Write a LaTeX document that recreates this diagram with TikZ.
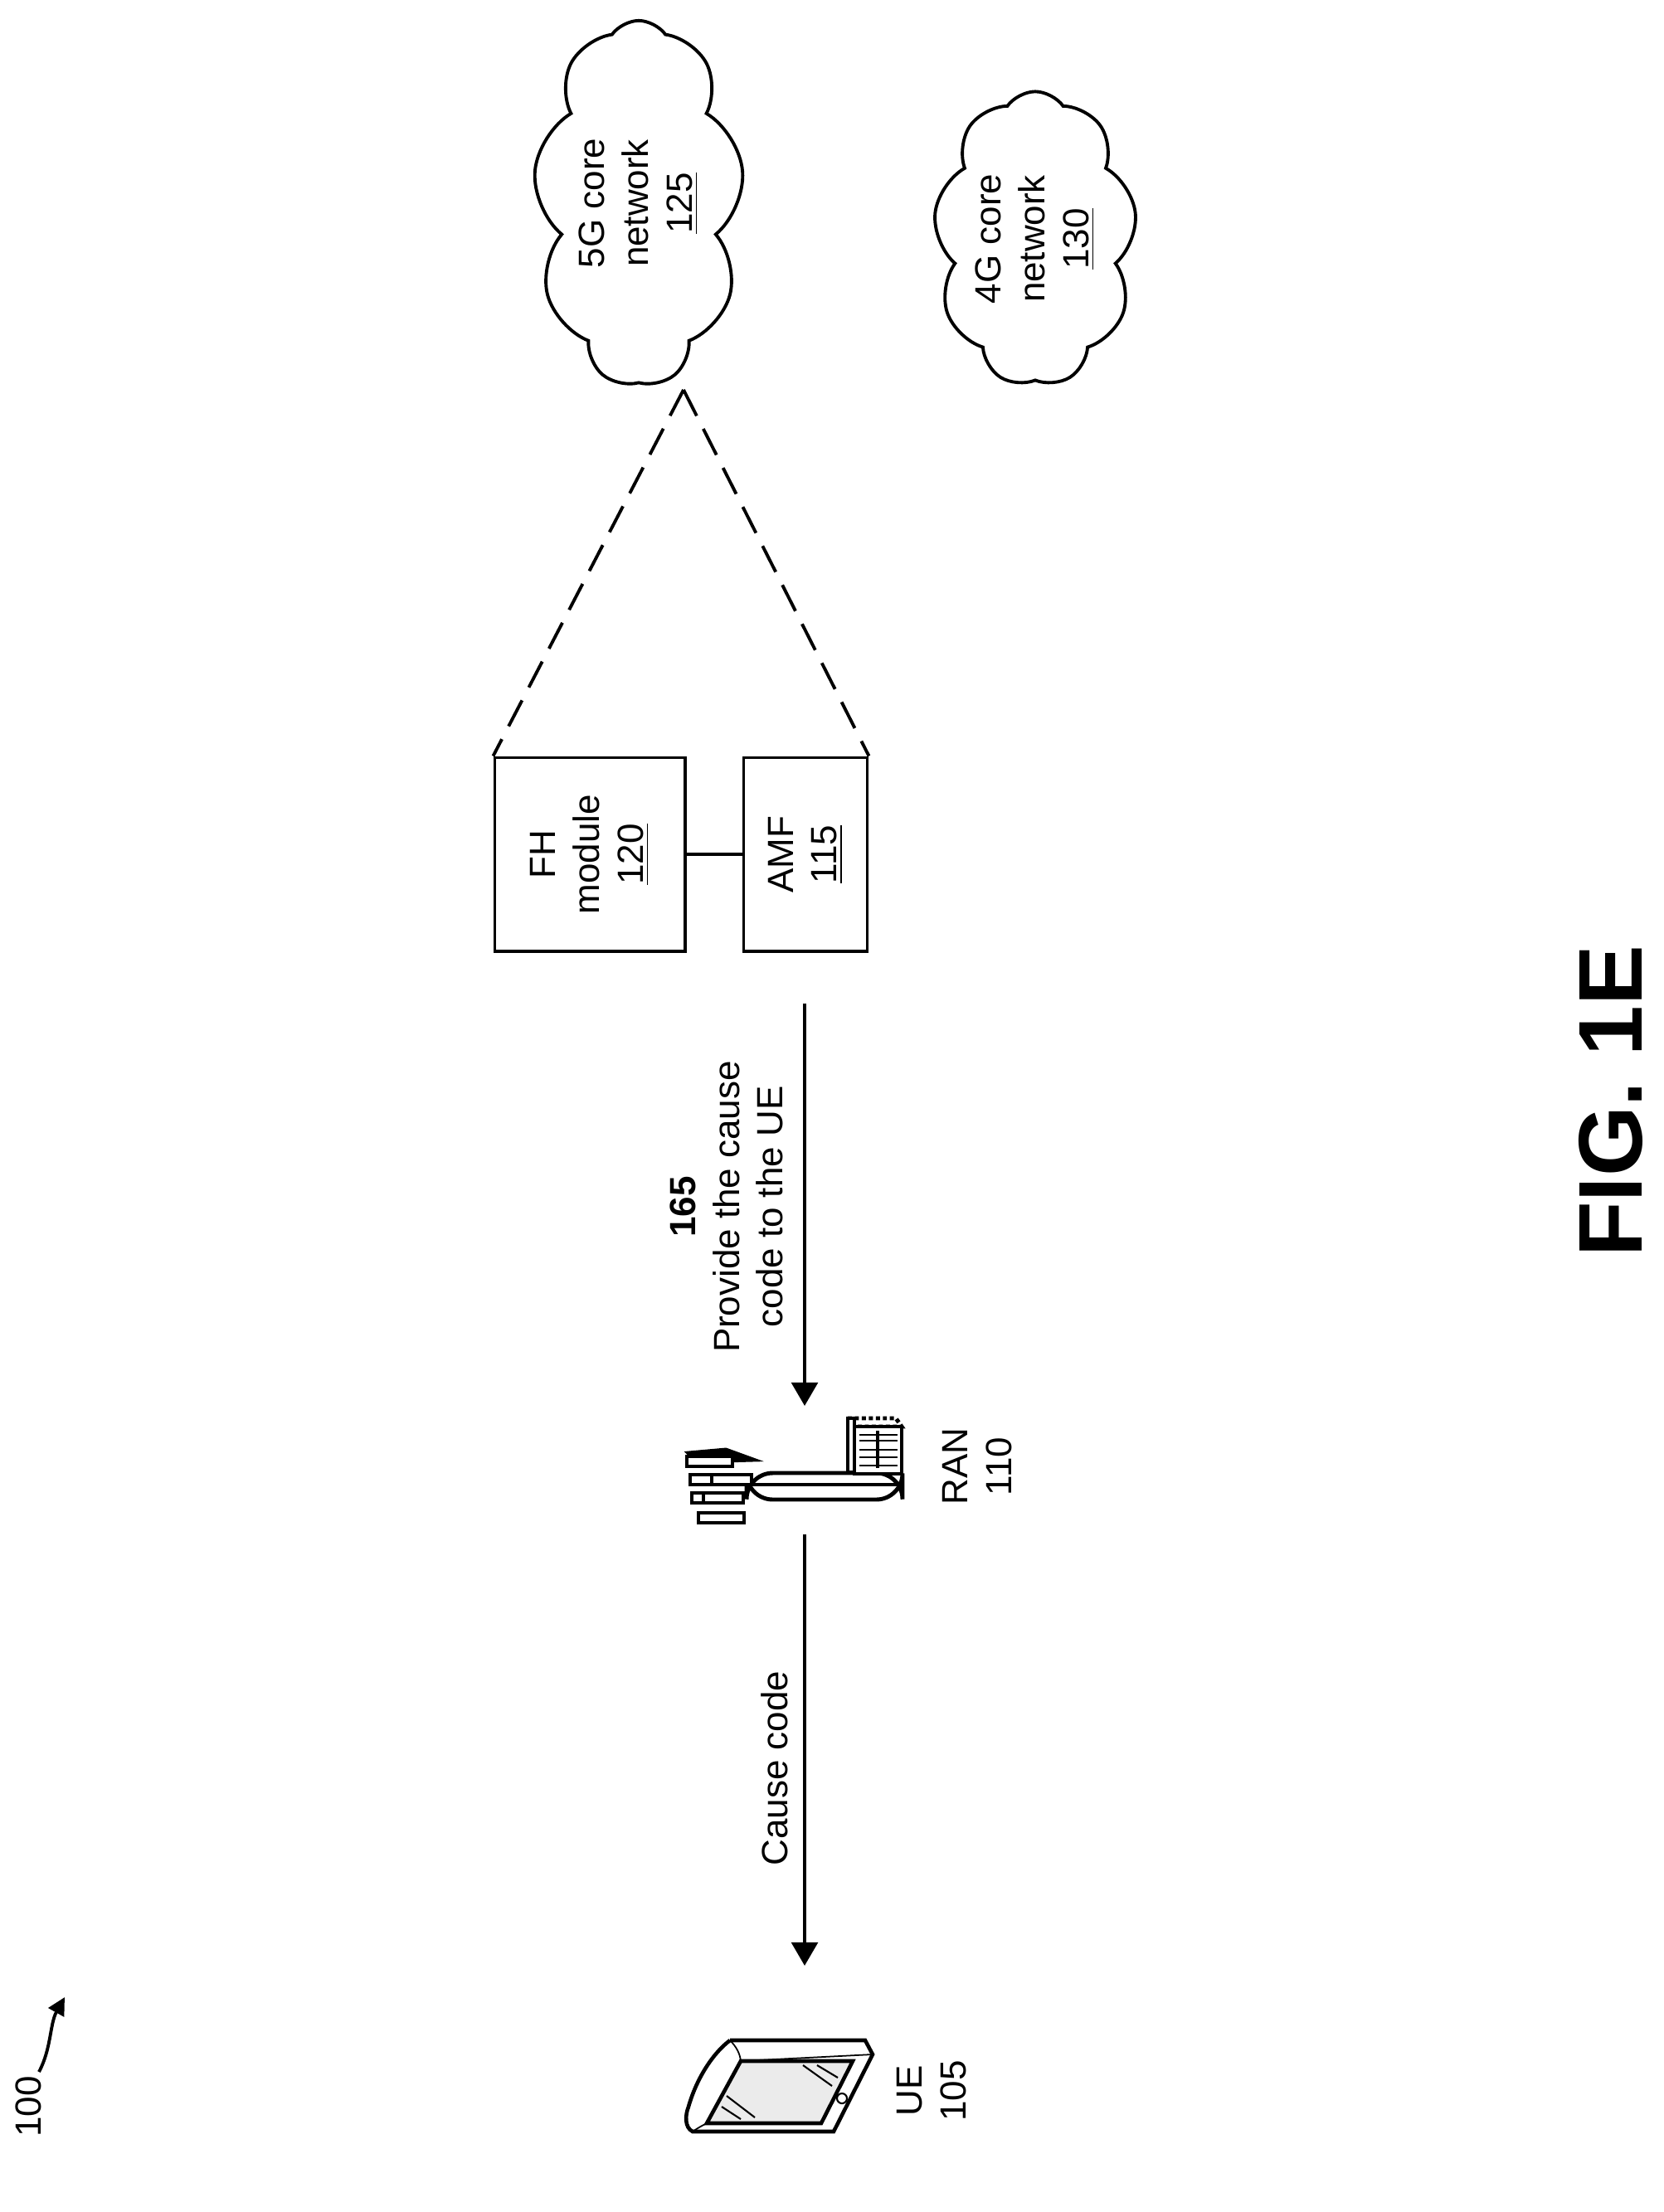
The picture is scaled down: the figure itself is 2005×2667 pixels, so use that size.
\documentclass[tikz,border=0pt]{standalone}
\usepackage{fontspec}
\setmainfont{Liberation Sans}
\usetikzlibrary{shapes.symbols,arrows.meta}
\begin{document}
\begin{tikzpicture}[x=0.01cm,y=-0.01cm,line width=1.1pt,
  lbl/.style={rotate=90,align=center,font=\fontsize{12.5}{15}\selectfont},
  box/.style={draw,minimum width=2.29cm,minimum height=2.33cm},
  arr/.style={-{Triangle[width=9pt,length=8pt]}},
  cl/.style={draw,cloud,cloud puffs=9,cloud puff arc=110,cloud ignores aspect,inner sep=0pt}]
\useasboundingbox (0,0) rectangle (2005,2667);
% clouds
\node[cl,minimum width=2.54cm,minimum height=4.4cm] (c5) at (770,245) {};
\node[lbl] (t5) at (770,245) {5G core\\network\\\underline{125}};
\node[cl,minimum width=2.45cm,minimum height=3.55cm] (c4) at (1248,288) {};
\node[lbl] (t4) at (1248,288) {4G core\\network\\\underline{130}};
% boxes
\node[box] (fh) at (711,1030) {};
\node[lbl] at (fh) {FH\\module\\\underline{120}};
\node[draw,minimum width=1.49cm,minimum height=2.33cm] (amf) at (971,1030) {};
\node[lbl] at (amf) {AMF\\\underline{115}};
\draw (fh.east) -- (amf.west);
\coordinate (cb) at (824,470);
\draw[dashed,dash pattern=on 10pt off 5pt] (cb) -- (fh.north west);
\draw[dashed,dash pattern=on 10pt off 5pt] (cb) -- (amf.north east);
% arrow 165
\coordinate (a1) at (970,1210);
\coordinate (a2) at (970,1695);
\draw[arr] (a1) -- (a2);
\node[lbl] (l165) at (876,1455) {\textbf{165}\\Provide the cause\\code to the UE};
% RAN icon
\begin{scope}[line width=1.4pt]
\draw[rounded corners=9] (900,1776) rectangle (1088,1808);
\draw (905,1790) -- (1085,1790);
\draw[fill=black] (830,1752) -- (875,1748) -- (908,1760) -- (840,1762) -- cycle;
\foreach \yy/\xx in {1768/828,1790/832,1812/834,1836/842}{
  \draw[fill=white] (\xx,\yy) rectangle ++(55,-12);}
\draw[fill=white] (858,1790) rectangle ++(48,-12);
\draw[fill=white] (848,1812) rectangle ++(48,-12);
\draw[fill=white,densely dotted] (1022,1710) -- (1030,1720) -- (1087,1720) -- (1080,1710) -- cycle;
\draw[fill=white] (1022,1710) rectangle (1030,1775);
\draw[fill=white] (1030,1720) rectangle (1087,1777);
\draw (1058,1725) -- (1058,1770);
\foreach \yy in {1730,1737,1748,1757,1767}{\draw[line width=0.8pt] (1036,\yy) -- (1082,\yy);}
\end{scope}
\node[lbl] (ran) at (1178,1768) {RAN\\110};
% arrow cause code
\coordinate (b1) at (970,1850);
\coordinate (b2) at (970,2370);
\draw[arr] (b1) -- (b2);
\node[lbl] (lcc) at (934,2132) {Cause code};
% UE icon
\begin{scope}[line width=1.3pt]
\draw[fill=white] (880,2460) -- (1043,2460) -- (1052,2477) -- (1005,2570) -- (835,2570)
  .. controls (825,2565) and (826,2550) .. (830,2540) .. controls (840,2505) and (860,2475) .. (880,2460);
\draw[fill=black!8] (893,2485) -- (1028,2485) -- (990,2560) -- (852,2560) -- cycle;
\draw[line width=0.5pt] (880,2460) .. controls (888,2468) and (892,2476) .. (893,2485);
\draw[line width=0.5pt] (893,2485) -- (1052,2477);
\draw[line width=0.5pt] (852,2560) .. controls (842,2565) and (838,2568) .. (835,2570);
\draw[line width=0.6pt] (1015,2530) circle (6);
\draw[line width=0.6pt] (968,2490) -- (1003,2515) (985,2490) -- (1010,2505) (876,2527) -- (910,2553) (870,2540) -- (893,2555);
\end{scope}
\node[lbl] (ue) at (1123,2521) {UE\\105};
% 100
\node[lbl] (n100) at (34,2540) {100};
\coordinate (p1) at (47,2498);
\coordinate (p2) at (78,2408);
\draw[-{Triangle[width=6pt,length=6pt]}] (p1) .. controls (62,2470) and (60,2440) .. (p2);
% fig
\node[rotate=90,font=\fontsize{31}{36}\selectfont\bfseries] (fig) at (1942,1328) {FIG. 1E};
\end{tikzpicture}
\end{document}
